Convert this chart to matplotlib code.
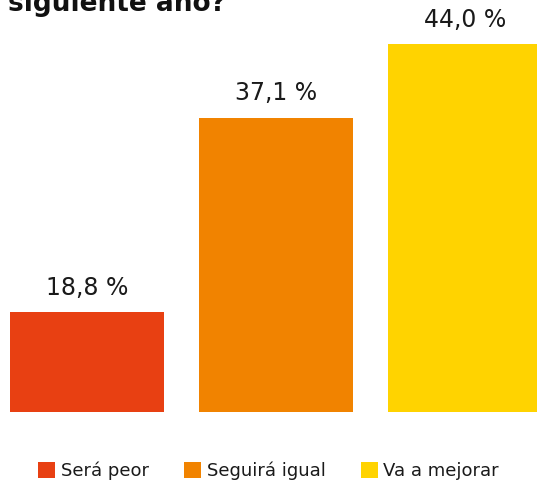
import matplotlib.pyplot as plt
from matplotlib.patches import Patch

categories = ["Será peor", "Seguirá igual", "Va a mejorar"]
values = [18.8, 37.1, 44.0]
labels = ["18,8 %", "37,1 %", "44,0 %"]
colors = ["#E84012", "#F18300", "#FFD300"]

plt.rcParams["font.family"] = ["DejaVu Sans"]


def main():
    fig = plt.figure(figsize=(5.37, 4.86), dpi=100)
    ax = fig.add_axes([0, 0, 1, 1])

    # the source chart does not start its bars at zero
    base = 9.5
    x = range(len(values))
    bars = ax.bar(x, [v - base for v in values], bottom=base, width=0.815, color=colors)

    for bar, lab in zip(bars, labels):
        ax.annotate(
            lab,
            xy=(bar.get_x() + bar.get_width() / 2, bar.get_y() + bar.get_height()),
            xytext=(0, 9),
            textcoords="offset points",
            ha="center",
            va="bottom",
            fontsize=17,
            color="#1a1a1a",
        )

    ax.set_xlim(-0.460, 2.381)
    ax.set_ylim(base - 74.5 / 10.65, base + 411.5 / 10.65)
    ax.axis("off")

    # title is cut off at the top of the picture, only its last line shows
    fig.text(0.015, 1 - 11 / 486, "siguiente año?", fontsize=19, fontweight="bold",
             color="#111111", ha="left", va="baseline")

    handles = [Patch(facecolor=c, edgecolor="none") for c in colors]
    fig.legend(
        handles,
        categories,
        loc="center",
        bbox_to_anchor=(0.5, 15 / 486),
        ncol=3,
        frameon=False,
        fontsize=13,
        handlelength=0.95,
        handleheight=0.95,
        handletextpad=0.3,
        columnspacing=1.95,
        labelcolor="#1a1a1a",
    )

    fig.savefig("out.png", dpi=100)


if __name__ == "__main__":
    main()
